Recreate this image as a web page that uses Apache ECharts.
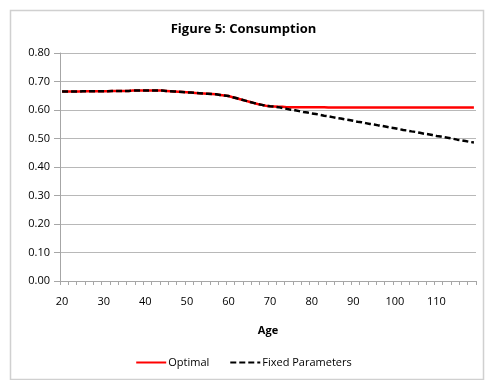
<!DOCTYPE html>
<html>
<head>
<meta charset="utf-8">
<script src="https://cdn.jsdelivr.net/npm/echarts@6/dist/echarts.min.js"></script>
<style>html,body{margin:0;padding:0;background:#fff}#c{width:487px;height:380px}</style>
</head>
<body>
<div id="c"></div>
<script>
var ages = [20,21,22,23,24,25,26,27,28,29,30,31,32,33,34,35,36,37,38,39,
40,41,42,43,44,45,46,47,48,49,50,51,52,53,54,55,56,57,58,59,
60,61,62,63,64,65,66,67,68,69,70,71,72,73,74,75,76,77,78,79,
80,81,82,83,84,85,86,87,88,89,90,91,92,93,94,95,96,97,98,99,
100,101,102,103,104,105,106,107,108,109,110,111,112,113,114,115,116,117,118,119];

var optimal = [0.665,0.665,0.665,0.665,0.665,0.666,0.666,0.666,0.666,0.666,
0.666,0.666,0.667,0.667,0.667,0.667,0.667,0.668,0.668,0.668,
0.668,0.668,0.668,0.668,0.668,0.667,0.666,0.665,0.664,0.663,
0.662,0.661,0.660,0.659,0.658,0.657,0.656,0.655,0.653,0.651,
0.649,0.645,0.641,0.637,0.633,0.629,0.625,0.621,0.618,0.615,
0.613,0.612,0.611,0.611,0.610,0.610,0.610,0.610,0.610,0.610,
0.610,0.610,0.610,0.610,0.609,0.609,0.609,0.609,0.609,0.609,
0.609,0.609,0.609,0.609,0.609,0.609,0.609,0.609,0.609,0.609,
0.609,0.609,0.609,0.609,0.609,0.609,0.609,0.609,0.609,0.609,
0.609,0.609,0.609,0.609,0.609,0.609,0.609,0.609,0.609,0.609];

var fixedParams = [0.665,0.665,0.665,0.665,0.665,0.666,0.666,0.666,0.666,0.666,
0.666,0.666,0.667,0.667,0.667,0.667,0.667,0.668,0.668,0.668,
0.668,0.668,0.668,0.668,0.668,0.667,0.666,0.665,0.664,0.663,
0.662,0.661,0.660,0.659,0.658,0.657,0.656,0.655,0.653,0.651,
0.649,0.645,0.641,0.637,0.633,0.629,0.625,0.621,0.618,0.615,
0.613,0.612,0.610,0.607,0.604,0.601,0.599,0.596,0.593,0.591,
0.588,0.586,0.583,0.580,0.578,0.575,0.572,0.570,0.567,0.565,
0.562,0.559,0.557,0.554,0.551,0.549,0.546,0.544,0.541,0.538,
0.536,0.533,0.530,0.528,0.525,0.523,0.520,0.517,0.515,0.512,
0.509,0.507,0.504,0.502,0.499,0.496,0.494,0.491,0.488,0.486];

var yTicks = [0, 0.1, 0.2, 0.3, 0.4, 0.5, 0.6, 0.7, 0.8];

var FONT = 'Open Sans';
var chart = echarts.init(document.getElementById('c'), null, {renderer: 'canvas'});
chart.setOption({
  animation: false,
  backgroundColor: '#fff',
  graphic: [{
    type: 'rect', left: 8, top: 8,
    shape: {width: 473, height: 369},
    style: {fill: 'none', stroke: '#d0d0d0', lineWidth: 1.5},
    silent: true
  }],
  title: {
    text: 'Figure 5: Consumption',
    left: 'center', top: 18,
    textStyle: {fontFamily: FONT, fontSize: 13, fontWeight: 'bold', color: '#000'}
  },
  grid: {left: 60, right: 11, top: 53, bottom: 99, containLabel: false},
  xAxis: {
    type: 'category',
    data: ages,
    boundaryGap: true,
    name: 'Age',
    nameLocation: 'middle',
    nameGap: 44,
    nameTextStyle: {fontFamily: FONT, fontSize: 11, fontWeight: 'bold', color: '#000'},
    axisLine: {lineStyle: {color: '#a6a6a6', width: 1}},
    axisTick: {show: true, interval: 1, length: 4, inside: false, lineStyle: {color: '#a6a6a6'}},
    axisLabel: {interval: 9, fontFamily: FONT, fontSize: 11, color: '#000', margin: 15},
    splitLine: {show: false}
  },
  yAxis: {
    type: 'value',
    min: 0, max: 0.8, interval: 0.1,
    axisLine: {show: true, lineStyle: {color: '#a6a6a6', width: 1}},
    axisTick: {show: true, length: 6, lineStyle: {color: '#a6a6a6'}},
    axisLabel: {fontFamily: FONT, fontSize: 11, color: '#000', margin: 10,
      formatter: function (v) { return v.toFixed(2); }},
    splitLine: {show: true, lineStyle: {color: '#b8b8b8', width: 1}}
  },
  legend: {
    bottom: 7, left: 'center',
    itemWidth: 30, itemHeight: 10, itemGap: 20,
    itemStyle: {opacity: 0},
    textStyle: {fontFamily: FONT, fontSize: 11, color: '#000', padding: [0, 0, 0, -3]},
    data: ['Optimal', 'Fixed Parameters']
  },
  series: [
    {
      name: 'Optimal', type: 'line', data: optimal,
      symbol: 'none', smooth: false,
      lineStyle: {color: '#ff0000', width: 2.5},
      itemStyle: {color: '#ff0000'}
    },
    {
      name: 'Fixed Parameters', type: 'line', data: fixedParams,
      symbol: 'none', smooth: false,
      lineStyle: {color: '#000', width: 2.5, type: [6, 3]},
      itemStyle: {color: '#000'}
    }
  ]
});
</script>
</body>
</html>
